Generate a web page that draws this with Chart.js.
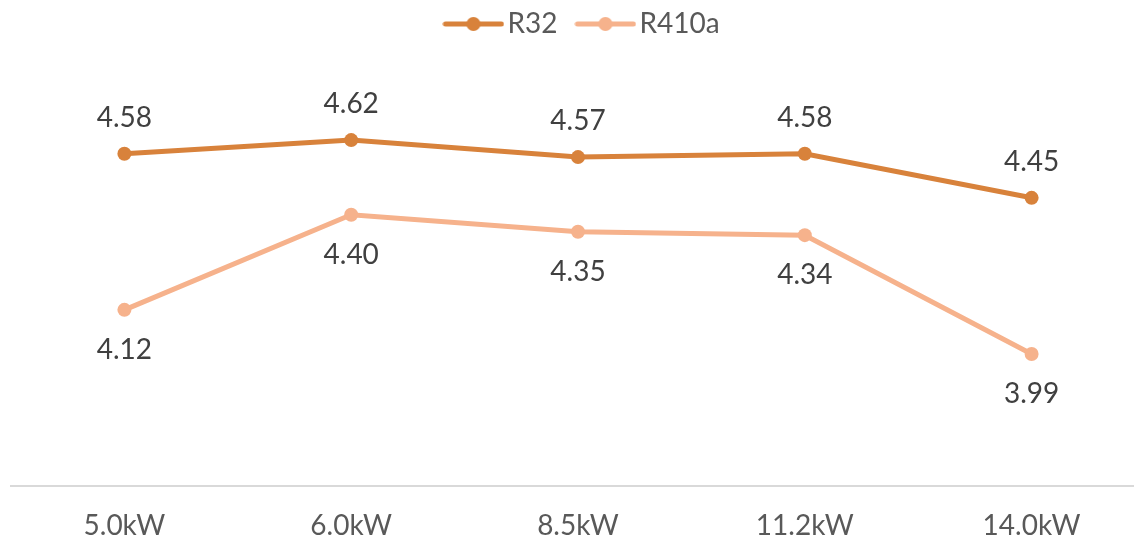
<!DOCTYPE html>
<html>
<head>
<meta charset="utf-8">
<script src="https://cdn.jsdelivr.net/npm/chart.js@4"></script>
<style>
  html, body { margin: 0; padding: 0; background: #fff; overflow: hidden; }
  #wrap { position: relative; width: 1152px; height: 570px; }
</style>
</head>
<body>
<div id="wrap"><canvas id="cop"></canvas></div>
<script>
const categories = ['5.0kW', '6.0kW', '8.5kW', '11.2kW', '14.0kW'];
const r32Values = [4.58, 4.62, 4.57, 4.58, 4.45];
const r410aValues = [4.12, 4.40, 4.35, 4.34, 3.99];
const seriesNames = ['R32', 'R410a'];

const darkOrange = '#D8823B';
const lightOrange = '#F6B28C';
const fontFamily = 'Lato, "Open Sans", sans-serif';

// legend marker: short line with a dot in the middle
function legendMarker(color) {
    const c = document.createElement('canvas');
    c.width = 62;
    c.height = 16;
    const g = c.getContext('2d');
    g.strokeStyle = color;
    g.lineWidth = 5;
    g.lineCap = 'round';
    g.beginPath();
    g.moveTo(3, 8);
    g.lineTo(59, 8);
    g.stroke();
    g.fillStyle = color;
    g.beginPath();
    g.arc(31, 8, 7, 0, Math.PI * 2);
    g.fill();
    return c;
}

// value labels: above for first series, below for second
const valueLabels = {
    id: 'valueLabels',
    afterDatasetsDraw(chart) {
        const ctx = chart.ctx;
        ctx.save();
        ctx.font = '28px ' + fontFamily;
        ctx.fillStyle = '#404040';
        ctx.textAlign = 'center';
        ctx.textBaseline = 'middle';
        chart.data.datasets.forEach((ds, i) => {
            const meta = chart.getDatasetMeta(i);
            meta.data.forEach((pt, j) => {
                const dy = i === 0 ? -36 : 40;
                ctx.fillText(ds.data[j].toFixed(2), pt.x, pt.y + dy);
            });
        });
        ctx.restore();
    }
};

// extra room under the legend, and nudge it a little to the right
const legendSpace = {
    id: 'legendSpace',
    beforeInit(chart) {
        const fit = chart.legend.fit;
        chart.legend.fit = function () {
            fit.bind(chart.legend)();
            this.height += 31;
        };
    },
    afterLayout(chart) {
        chart.legend.left += 5;
        chart.legend.right += 5;
    }
};

const ctx = document.getElementById('cop').getContext('2d');
new Chart(ctx, {
    type: 'line',
    data: {
        labels: categories,
        datasets: [{
            label: seriesNames[0],
            data: r32Values,
            borderColor: darkOrange,
            backgroundColor: darkOrange,
            borderWidth: 5,
            pointRadius: 7,
            pointHoverRadius: 7,
            pointBackgroundColor: darkOrange,
            pointBorderWidth: 0,
            tension: 0
        }, {
            label: seriesNames[1],
            data: r410aValues,
            borderColor: lightOrange,
            backgroundColor: lightOrange,
            borderWidth: 5,
            pointRadius: 7,
            pointHoverRadius: 7,
            pointBackgroundColor: lightOrange,
            pointBorderWidth: 0,
            tension: 0
        }]
    },
    options: {
        responsive: true,
        maintainAspectRatio: false,
        animation: false,
        layout: { padding: { left: 11, right: 0, top: -18, bottom: 4 } },
        plugins: {
            legend: {
                position: 'top',
                labels: {
                    usePointStyle: true,
                    pointStyleWidth: 40,
                    padding: 28,
                    color: '#595959',
                    font: { family: fontFamily, size: 28 },
                    generateLabels(chart) {
                        return chart.data.datasets.map((ds, i) => ({
                            text: ds.label,
                            pointStyle: legendMarker(ds.borderColor),
                            fontColor: '#595959',
                            lineWidth: 0,
                            strokeStyle: 'transparent',
                            fillStyle: 'transparent',
                            hidden: false,
                            datasetIndex: i
                        }));
                    }
                }
            },
            tooltip: { enabled: false }
        },
        scales: {
            x: {
                offset: true,
                grid: { display: false, drawTicks: false },
                border: { display: true, color: '#D9D9D9', width: 2 },
                ticks: {
                    color: '#595959',
                    padding: 23,
                    font: { family: fontFamily, size: 28 }
                }
            },
            y: {
                display: false,
                min: 3.6,
                max: 4.8
            }
        }
    },
    plugins: [valueLabels, legendSpace]
});
</script>
</body>
</html>
